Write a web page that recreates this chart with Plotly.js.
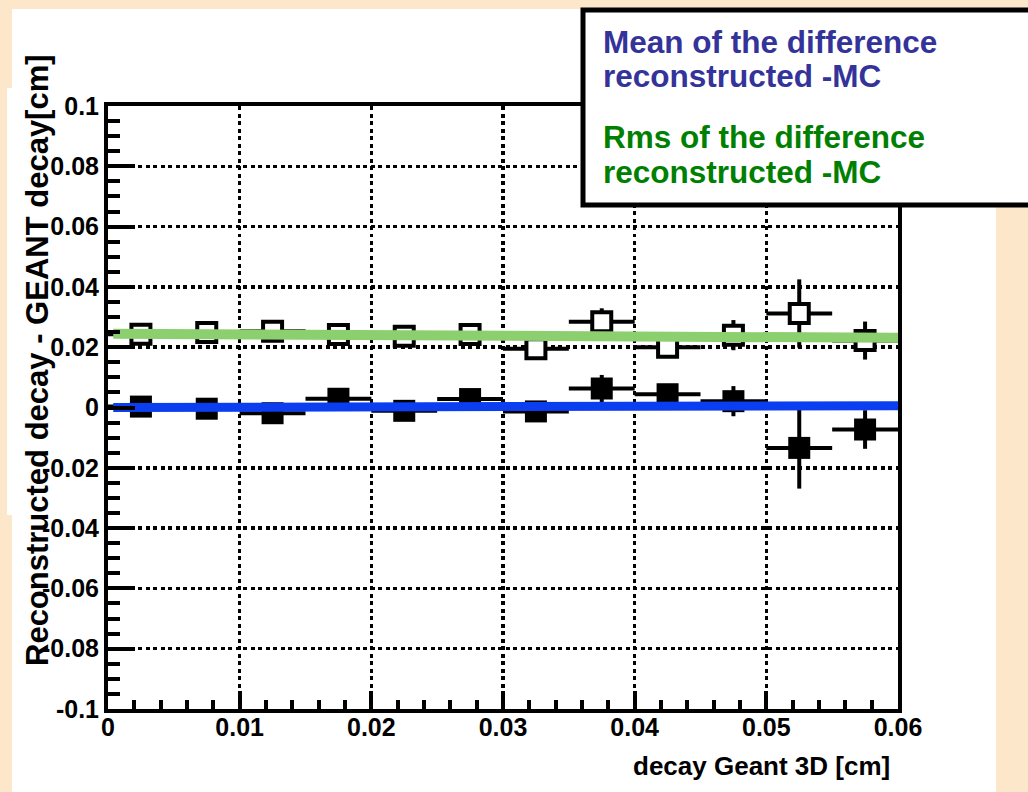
<!DOCTYPE html>
<html>
<head>
<meta charset="utf-8">
<script src="https://cdn.plot.ly/plotly-3.0.1.min.js"></script>
<style>
html,body{margin:0;padding:0;background:#fde7cb;}
#chart{width:1028px;height:792px;}
</style>
</head>
<body>
<div id="chart"></div>
<script>
// ---- data ----
const binCenters   = [0.0025,0.0075,0.0125,0.0175,0.0225,0.0275,0.0325,0.0375,0.0425,0.0475,0.0525,0.0575];
const binHalfWidth = [0.0025,0.0025,0.0025,0.0025,0.0025,0.0025,0.0025,0.0025,0.0025,0.0025,0.0025,0.0025];
const meanValues   = [0.0003,-0.0004,-0.0019,0.0029,-0.0011,0.0028,-0.0013,0.0063,0.0044,0.0021,-0.0134,-0.0073];
const meanErrors   = [0.002,0.002,0.002,0.002,0.002,0.002,0.002,0.0045,0.003,0.005,0.0135,0.0064];
const rmsValues    = [0.0243,0.0249,0.0253,0.0242,0.0236,0.0242,0.0195,0.0284,0.0200,0.0240,0.0312,0.0222];
const rmsErrors    = [0.002,0.002,0.002,0.002,0.002,0.002,0.002,0.0045,0.002,0.005,0.0113,0.0063];
const meanFitX = [0.0004,0.06];
const meanFitY = [0.0000,0.0006];
const rmsFitX  = [0.0004,0.06];
const rmsFitY  = [0.0245,0.0231];
const xTickVals = [0,0.01,0.02,0.03,0.04,0.05,0.06];
const xTickText = ['0','0.01','0.02','0.03','0.04','0.05','0.06'];
const yTickVals = [-0.1,-0.08,-0.06,-0.04,-0.02,0,0.02,0.04,0.06,0.08,0.1];
const yTickText = ['-0.1','-0.08','-0.06','-0.04','-0.02','0','0.02','0.04','0.06','0.08','0.1'];
const legendLines = ['Mean of the difference','reconstructed -MC','Rms of the difference','reconstructed -MC'];
const xTitle = 'decay Geant 3D [cm]';
const yTitle = 'Reconstructed decay - GEANT decay[cm]';

// ---- geometry helpers (page pixels -> paper coords) ----
const W = 1028, H = 792;
const M = {l:108, r:130, t:106, b:83};
const PW = W - M.l - M.r, PH = H - M.t - M.b;
const px = v => (v - M.l) / PW;
const py = v => (H - M.b - v) / PH;

const traces = [
  {
    x: binCenters, y: rmsValues, type:'scatter', mode:'markers',
    marker:{symbol:'square', size:19, color:'white', line:{color:'black', width:4}},
    error_x:{type:'data', array:binHalfWidth, color:'black', thickness:4, width:0},
    error_y:{type:'data', array:rmsErrors, color:'black', thickness:4, width:0},
    showlegend:false, hoverinfo:'skip'
  },
  {
    x: binCenters, y: meanValues, type:'scatter', mode:'markers',
    marker:{symbol:'square', size:22, color:'black', line:{width:0}},
    error_x:{type:'data', array:binHalfWidth, color:'black', thickness:4, width:0},
    error_y:{type:'data', array:meanErrors, color:'black', thickness:4, width:0},
    showlegend:false, hoverinfo:'skip'
  },
  {
    x: rmsFitX, y: rmsFitY, type:'scatter', mode:'lines',
    line:{color:'#8ccf6e', width:10}, showlegend:false, hoverinfo:'skip'
  },
  {
    x: meanFitX, y: meanFitY, type:'scatter', mode:'lines',
    line:{color:'#0a3ef0', width:9}, showlegend:false, hoverinfo:'skip'
  }
];

const FAM = '"Liberation Sans", Arial, sans-serif';

const layout = {
  width:W, height:H,
  margin:M,
  paper_bgcolor:'#fde7cb',
  plot_bgcolor:'white',
  showlegend:false,
  xaxis:{
    range:[0,0.06], tickvals:xTickVals, ticktext:xTickText,
    ticks:'inside', ticklen:18, tickwidth:4, tickcolor:'black',
    showline:true, linewidth:4, linecolor:'black', mirror:true,
    showgrid:true, gridcolor:'black', gridwidth:3.5, griddash:'4px,3.5px',
    zeroline:false, ticklabelstandoff:-7,
    tickfont:{family:FAM, size:25, color:'black', weight:'bold'},
    minor:{ticks:'inside', ticklen:9, tickwidth:4, tickcolor:'black', dtick:0.002, tick0:0, showgrid:false}
  },
  yaxis:{
    range:[-0.1,0.1], tickvals:yTickVals, ticktext:yTickText,
    ticks:'inside', ticklen:27, tickwidth:4, tickcolor:'black',
    showline:true, linewidth:4, linecolor:'black', mirror:true,
    showgrid:true, gridcolor:'black', gridwidth:3.5, griddash:'4px,3.5px',
    zeroline:false,
    tickfont:{family:FAM, size:25, color:'black', weight:'bold'},
    minor:{ticks:'inside', ticklen:12, tickwidth:4, tickcolor:'black', dtick:0.005, tick0:0, showgrid:false}
  },
  shapes:[
    {type:'rect', xref:'paper', yref:'paper', layer:'below',
     x0:px(12), x1:px(996), y0:py(9), y1:py(800), fillcolor:'white', line:{width:0}},
    {type:'rect', xref:'paper', yref:'paper', layer:'below',
     x0:px(7), x1:px(40), y0:py(88), y1:py(515), fillcolor:'white', line:{width:0}},
    {type:'rect', xref:'paper', yref:'paper', layer:'above',
     x0:px(583), x1:px(1040), y0:py(10), y1:py(205), fillcolor:'white', line:{color:'black', width:5}}
  ],
  annotations:[
    {text:yTitle, xref:'paper', yref:'paper', x:px(37), y:py(360), xanchor:'center', yanchor:'middle',
     textangle:-90, showarrow:false,
     font:{family:FAM, size:31, color:'black', weight:'bold'}},
    {text:xTitle, xref:'paper', yref:'paper', x:px(892), y:py(766), xanchor:'right', yanchor:'middle',
     showarrow:false, font:{family:FAM, size:26, color:'black', weight:'bold'}},
    {text:legendLines[0], xref:'paper', yref:'paper', x:px(601), y:py(42), xanchor:'left', yanchor:'middle',
     showarrow:false, font:{family:FAM, size:31.5, color:'#333399', weight:'bold'}},
    {text:legendLines[1], xref:'paper', yref:'paper', x:px(601), y:py(76), xanchor:'left', yanchor:'middle',
     showarrow:false, font:{family:FAM, size:31.5, color:'#333399', weight:'bold'}},
    {text:legendLines[2], xref:'paper', yref:'paper', x:px(601), y:py(137), xanchor:'left', yanchor:'middle',
     showarrow:false, font:{family:FAM, size:31.5, color:'#008000', weight:'bold'}},
    {text:legendLines[3], xref:'paper', yref:'paper', x:px(601), y:py(172), xanchor:'left', yanchor:'middle',
     showarrow:false, font:{family:FAM, size:31.5, color:'#008000', weight:'bold'}}
  ]
};

Plotly.newPlot('chart', traces, layout, {displayModeBar:false, staticPlot:true});
</script>
</body>
</html>
